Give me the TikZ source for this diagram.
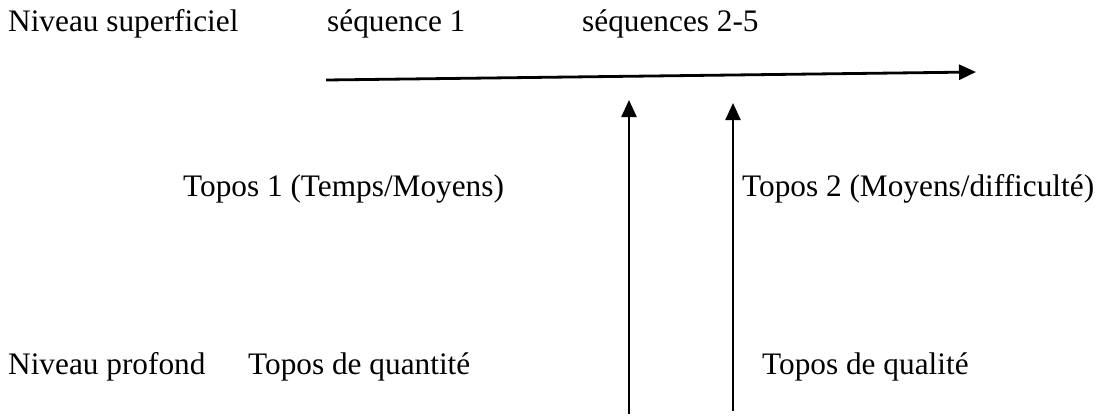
\documentclass[tikz,border=0pt]{standalone}
\usepackage{fontspec}
\setmainfont{Liberation Serif}
\usetikzlibrary{arrows.meta}
\begin{document}
\begin{tikzpicture}[x=1pt,y=-1pt,
  lbl/.style={anchor=base west,inner sep=0pt,font=\fontsize{31.3}{37}\selectfont},
  arr/.style={-{Triangle[length=17pt,width=15pt]},line width=2.8pt},
  varr/.style={-{Triangle[length=17pt,width=15pt]},line width=2.3pt}]
\useasboundingbox (0,0) rectangle (1109,416);
\node[lbl] (ns) at (8,31) {Niveau superficiel};
\node[lbl] (s1) at (327,31) {séquence 1};
\node[lbl] (s25) at (582,31) {séquences 2-5};
\node[lbl] (t1) at (183,196) {Topos 1 (Temps/Moyens)};
\node[lbl] (t2) at (742,196) {Topos 2 (Moyens/difficulté)};
\node[lbl] (np) at (8,374) {Niveau profond};
\node[lbl] (tq) at (248,374) {Topos de quantité};
\node[lbl] (tl) at (762,374) {Topos de qualité};
\coordinate (hs) at (326,80);
\coordinate (he) at (976,72);
\draw[arr] (hs) -- (he);
\coordinate (b1) at (629,414);
\coordinate (e1) at (629,100);
\coordinate (b2) at (733,411);
\coordinate (e2) at (733,103);
\draw[varr] (b1) -- (e1);
\draw[varr] (b2) -- (e2);
\end{tikzpicture}
\end{document}
